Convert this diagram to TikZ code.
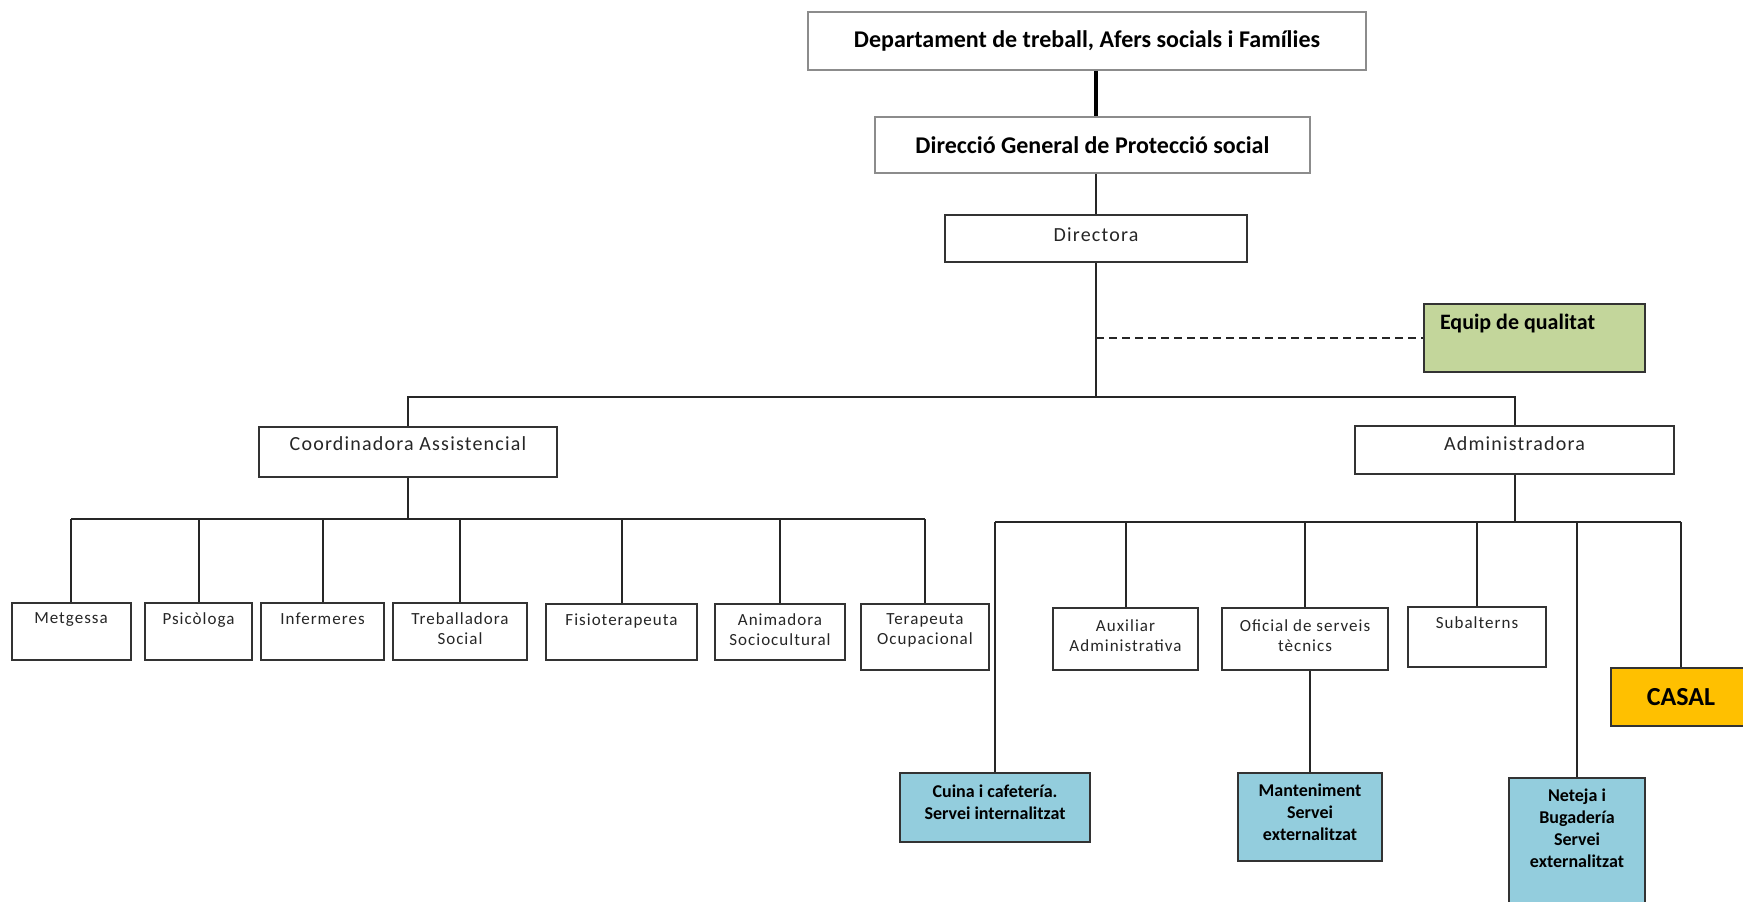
\documentclass[tikz,border=0pt]{standalone}
\usepackage{fontspec}
\setmainfont{Carlito}
\newfontfamily\lsfont{Carlito}[LetterSpace=6]
\definecolor{eqgreen}{HTML}{C3D69B}
\definecolor{svblue}{HTML}{93CDDD}
\definecolor{casalor}{HTML}{FFC000}
\newcommand\tb[4]{\parbox[c][#2][t]{#1}{\centering\vspace*{#3}#4\par}}
\tikzset{
  box/.style={draw=black!80, line width=2pt, inner sep=0pt, fill=white, text=black!85},
  topbox/.style={draw=black!45, line width=1.5pt, inner sep=0pt, fill=white,
    font=\bfseries\fontsize{24}{28}\selectfont},
  midtxt/.style={font=\lsfont\fontsize{20}{24}\selectfont},
  smalltxt/.style={font=\lsfont\fontsize{17}{20}\selectfont},
  bluebox/.style={box, fill=svblue, text=black, font=\bfseries\fontsize{18}{22}\selectfont},
  conn/.style={line width=2pt, draw=black!85},
}
\begin{document}
\begin{tikzpicture}[x=1pt,y=-1pt]
\fill[white] (0,0) rectangle (1743,902);
\useasboundingbox (0,0) rectangle (1743,902);

% top levels
\node[topbox, minimum width=558pt, minimum height=58pt] (dept) at (1087,41) {\raisebox{-2pt}{Departament de treball, Afers socials i Famílies}};
\node[topbox, minimum width=435pt, minimum height=56pt] (dgps) at (1092.5,145) {Direcció General de Protecció social};
\node[box, midtxt] (dir) at (1096,238.5) {\tb{302pt}{47pt}{13pt}{Directora}};
\node[box, fill=eqgreen, text=black, font=\bfseries\fontsize{22}{26}\selectfont] (equip) at (1534.5,338)
  {\parbox[c][68pt][t]{221pt}{\raggedright\vspace*{10pt}\hspace*{16pt}Equip de qualitat\par}};

\node[box, midtxt] (coord) at (408,452) {\tb{298pt}{50pt}{10pt}{Coordinadora Assistencial}};
\node[box, midtxt] (admin) at (1514.5,450) {\tb{319pt}{48pt}{11pt}{Administradora}};

% assistencial children
\node[box, smalltxt] (met) at (71,631.5) {\tb{119pt}{57pt}{10pt}{Metgessa}};
\node[box, smalltxt] (psi) at (198.5,631.5) {\tb{107pt}{57pt}{10pt}{Psicòloga}};
\node[box, smalltxt] (inf) at (322.5,631.5) {\tb{123pt}{57pt}{10pt}{Infermeres}};
\node[box, smalltxt] (tre) at (460,631.5) {\tb{134pt}{57pt}{10pt}{Treballadora\\Social}};
\node[box, smalltxt] (fis) at (621.5,632) {\tb{151pt}{56pt}{10pt}{Fisioterapeuta}};
\node[box, smalltxt] (ani) at (780,632) {\tb{130pt}{56pt}{10pt}{Animadora\\Sociocultural}};
\node[box, smalltxt] (ter) at (925,637) {\tb{128pt}{66pt}{10pt}{Terapeuta\\Ocupacional}};

% administration children
\node[box, smalltxt] (aux) at (1125.5,639) {\tb{145pt}{62pt}{12pt}{Auxiliar\\Administrativa}};
\node[box, smalltxt] (ofi) at (1305,639) {\tb{166pt}{62pt}{12pt}{Oficial de serveis\\tècnics}};
\node[box, smalltxt] (sub) at (1477,637) {\tb{138pt}{60pt}{10pt}{Subalterns}};
\node[box, fill=casalor, text=black, minimum width=140pt, minimum height=58pt,
  font=\bfseries\fontsize{26}{30}\selectfont] (casal) at (1681,697) {CASAL};

\node[bluebox] (cui) at (995,807.5) {\tb{190pt}{69pt}{12pt}{Cuina i cafetería.\\Servei internalitzat}};
\node[bluebox] (man) at (1310,817) {\tb{144pt}{88pt}{11pt}{Manteniment\\Servei\\externalitzat}};
\node[bluebox] (net) at (1577,841.5) {\tb{136pt}{127pt}{11pt}{Neteja i\\Bugadería\\Servei\\externalitzat}};

% bar levels
\coordinate (tbar) at (0,397);
\coordinate (lbar) at (0,519);
\coordinate (rbar) at (0,522);

% connectors
\draw[line width=3.2pt, black] (dir.north |- dept.south) -- (dir.north |- dgps.north);
\draw[conn] (dir.north |- dgps.south) -- (dir.north);
\draw[conn] (dir.south) -- (dir.south |- tbar);
\draw[conn, dash pattern=on 8pt off 5pt] (equip.west -| dir.south) -- (equip.west);
\draw[conn] (coord.north) -- (coord.north |- tbar) -- (admin.north |- tbar) -- (admin.north);

\draw[conn] (coord.south) -- (coord.south |- lbar);
\draw[conn] (met.north |- lbar) -- (ter.north |- lbar);
\foreach \c in {met,psi,inf,tre,fis,ani,ter}
  \draw[conn] (\c.north |- lbar) -- (\c.north);

\draw[conn] (admin.south) -- (admin.south |- rbar);
\draw[conn] (cui.north |- rbar) -- (casal.north |- rbar);
\foreach \c in {cui,aux,ofi,sub,net,casal}
  \draw[conn] (\c.north |- rbar) -- (\c.north);
\draw[conn] (man.north |- ofi.south) -- (man.north);
\end{tikzpicture}
\end{document}
